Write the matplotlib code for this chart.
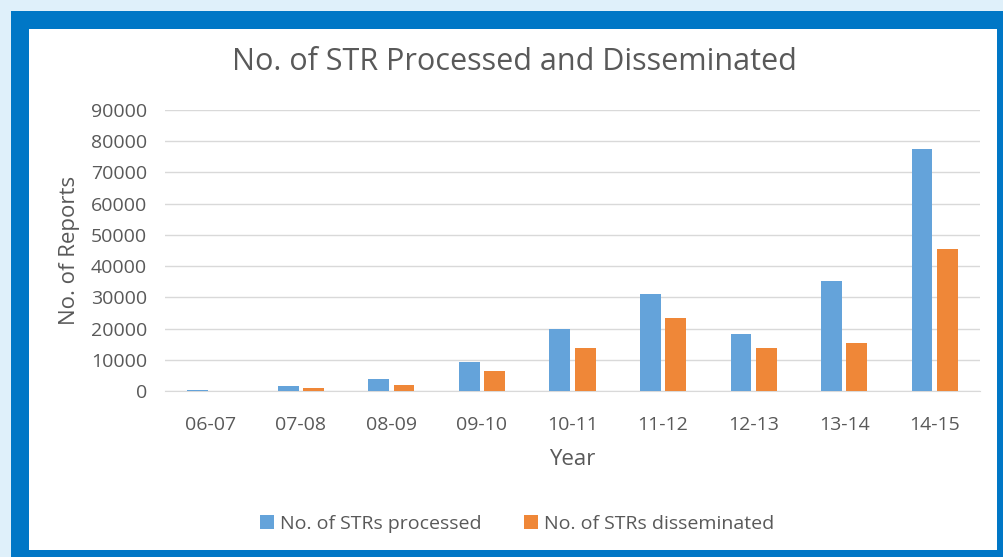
import matplotlib.pyplot as plt
import numpy as np
from matplotlib.patches import Rectangle

plt.rcParams['font.family'] = ['Open Sans', 'DejaVu Sans']

# Data.
years = ['06-07', '07-08', '08-09', '09-10', '10-11', '11-12', '12-13', '13-14', '14-15']
processed = [450, 1600, 3850, 9300, 19800, 31000, 18300, 35300, 77600]
disseminated = [20, 900, 2000, 6300, 13700, 23300, 13700, 15300, 45500]

blue = '#64a3da'
orange = '#ef8738'
text_gray = '#595959'

fig = plt.figure(figsize=(10.04, 5.57), dpi=100, facecolor='#dff0fa')

# Blue frame and white chart area, kept behind the axes.
fig.patches.append(Rectangle((11 / 1004, 0), 993 / 1004, 546 / 557,
                             transform=fig.transFigure, facecolor='#0077c6',
                             edgecolor='none', zorder=-2))
fig.patches.append(Rectangle((29 / 1004, 7 / 557), 968 / 1004, 521 / 557,
                             transform=fig.transFigure, facecolor='white',
                             edgecolor='none', zorder=-1))

ax = fig.add_axes([165 / 1004, 166 / 557, 815 / 1004, 281 / 557])
ax.set_facecolor('none')
ax.set_zorder(2)

x = np.arange(len(years))
w = 0.23
ax.bar(x - 0.14, processed, w, color=blue, label='No. of STRs processed', zorder=3)
ax.bar(x + 0.14, disseminated, w, color=orange, label='No. of STRs disseminated', zorder=3)

ax.set_xlim(-0.5, len(years) - 0.5)
ax.set_ylim(0, 90000)
ax.set_yticks(range(0, 90001, 10000))
ax.set_xticks(x)
ax.set_xticklabels(years)

ax.grid(axis='y', color='#d9d9d9', linewidth=1, zorder=0)
for s in ['top', 'right', 'left']:
    ax.spines[s].set_visible(False)
ax.spines['bottom'].set_color('#d9d9d9')
ax.tick_params(length=0, labelsize=14, labelcolor=text_gray)
ax.tick_params(axis='y', pad=13)
ax.tick_params(axis='x', pad=18)

ax.set_ylabel('No. of Reports', fontsize=16, color=text_gray, labelpad=8)
ax.set_xlabel('Year', fontsize=16, color=text_gray, labelpad=11)

fig.text(0.512, 0.888, 'No. of STR Processed and Disseminated', ha='center',
         va='center', fontsize=22, color=text_gray)

fig.legend(loc='center', bbox_to_anchor=(0.515, 0.06), ncol=2, frameon=False,
           fontsize=14, labelcolor=text_gray, handlelength=0.7, handleheight=0.7,
           handletextpad=0.3, columnspacing=2.2)

fig.savefig('out.png', dpi=100, facecolor=fig.get_facecolor())
